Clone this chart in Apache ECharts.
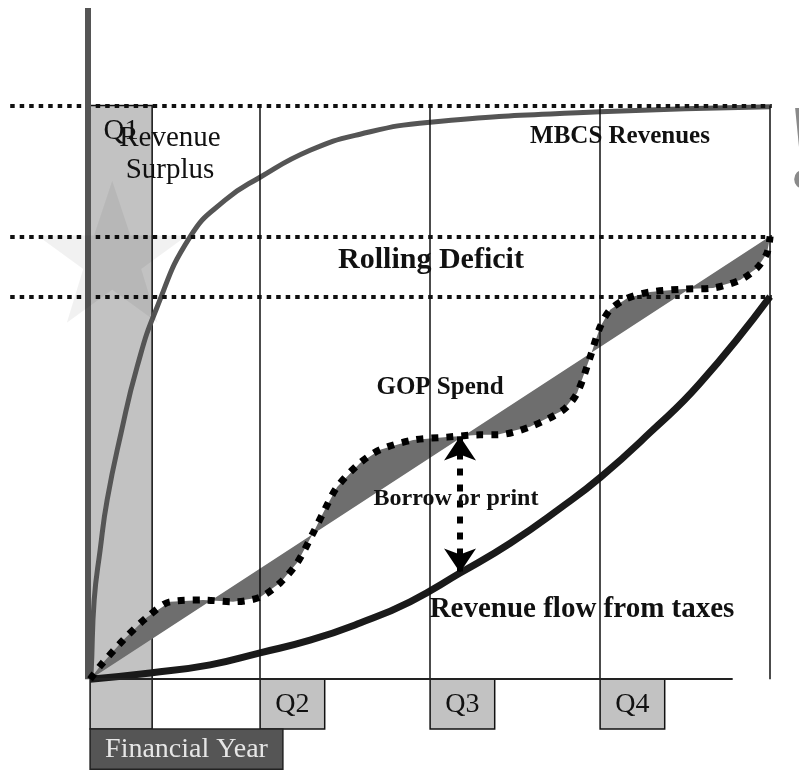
<!DOCTYPE html>
<html>
<head>
<meta charset="utf-8">
<script src="https://cdn.jsdelivr.net/npm/echarts@6/dist/echarts.min.js"></script>
<style>
  html, body { margin: 0; padding: 0; background: #fff; }
  #chart { width: 799px; height: 771px; }
</style>
</head>
<body>
<div id="chart"></div>
<script>
// x = quarters of the financial year (0..4), y = cumulative amount (100 = MBCS plateau)
const quarterNames = ['Q1', 'Q2', 'Q3', 'Q4'];
const quarterStarts = [0, 1, 2, 3];
const yearEnd = 4;
const guideLevels = [100, 77.2, 66.7];

const mbcsRevenue = [[0, 0], [0.006, 1.1], [0.024, 13.8], [0.059, 22.5], [0.1, 31.2], [0.182, 42.9],
  [0.276, 54.4], [0.388, 64.4], [0.588, 77.1], [0.794, 83.5], [1, 87.5], [1.294, 92.2],
  [1.588, 95], [2, 97.1], [3, 98.9], [4, 99.8]];

const gopSpend = [[0, 0], [0.059, 2.3], [0.194, 6.8], [0.335, 10.8], [0.471, 13.5], [0.665, 13.8],
  [0.841, 13.5], [1, 14.3], [1.118, 16.8], [1.218, 20.3], [1.312, 25.5], [1.371, 29],
  [1.453, 33.5], [1.588, 37.7], [1.706, 40], [1.9, 41.7], [2.1, 42.2], [2.294, 42.6],
  [2.394, 42.6], [2.588, 44], [2.782, 46.9], [2.865, 49.9], [2.941, 56.1], [3, 61.4],
  [3.059, 64.4], [3.159, 66.4], [3.294, 67.5], [3.488, 68], [3.665, 68.2], [3.824, 69.6],
  [3.924, 71.7], [3.982, 74.3], [4, 77.2]];

const plannedSpend = [[0, 0], [4, 77.2]];

const taxRevenue = [[0, 0], [0.353, 1.1], [0.706, 2.5], [1, 4.6], [1.294, 6.8], [1.588, 9.8],
  [1.882, 13.5], [2.176, 18.5], [2.471, 23.7], [2.765, 29.8], [3.006, 35.3], [3.294, 43],
  [3.588, 51.6], [4, 66.7]];

const borrowX = 2.176;
const borrowRange = [42.3, 18.6];

const font = '"Liberation Serif", "Times New Roman", serif';
const boxStyle = { color: '#c2c2c2', borderColor: '#111', borderWidth: 1.5 };

var myChart = echarts.init(document.getElementById('chart'));

// quarter boxes under the axis, Q1 as a tall band
var areas = quarterStarts.map(function (q, i) {
  var top = i === 0 ? guideLevels[0] : 0;
  return [
    { name: quarterNames[i], xAxis: q, yAxis: top, itemStyle: boxStyle,
      label: i === 0 ? { position: 'insideTop', distance: 12, fontSize: 29 } : { position: 'inside' } },
    { xAxis: q + (i === 0 ? 0.365 : 0.38), yAxis: -8.7 }
  ];
});
areas.push([
  { name: 'Financial Year', xAxis: 0, yAxis: -8.7,
    itemStyle: { color: '#555', borderColor: '#222', borderWidth: 1.5 },
    label: { position: 'inside', color: '#e6e6e6' } },
  { xAxis: 1.134, yAxis: -15.7 }
]);

var guideLines = guideLevels.map(function (v) {
  return [{ coord: [-0.47, v] }, { coord: [4.01, v] }];
});
var quarterLines = quarterStarts.concat([yearEnd]).slice(1).map(function (q) {
  return [{ coord: [q, 0], lineStyle: { type: 'solid', width: 1.5, color: '#111' } },
          { coord: [q, guideLevels[0]] }];
});

var option = {
  animation: false,
  grid: { left: 0, right: 0, top: 8, bottom: 0 },
  xAxis: { type: 'value', min: -0.53, max: 4.17, show: false },
  yAxis: { type: 'value', min: -16, max: 117, show: false },
  series: [
    {
      name: 'boxes', type: 'line', data: [], z: 1, silent: true,
      markArea: {
        silent: true,
        label: { show: true, fontFamily: font, fontSize: 28, color: '#111' },
        data: areas
      },
      markPoint: {
        silent: true,
        symbol: 'path://M50,0 L61.8,35.1 L98.6,35.1 L68.8,56.7 L79.4,91.3 L50,70 L20.6,91.3 L31.2,56.7 L1.4,35.1 L38.2,35.1 Z',
        symbolSize: [150, 142],
        itemStyle: { color: 'rgba(0,0,0,0.055)' },
        label: { show: false },
        data: [{ coord: [0.13, 74.5] }]
      }
    },
    {
      name: 'guides', type: 'line', data: [], z: 2, silent: true,
      markLine: {
        silent: true, symbol: 'none',
        label: { show: false },
        lineStyle: { color: '#111', width: 4, type: [4.5, 5] },
        data: guideLines.concat(quarterLines).concat([
          [{ coord: [0, 0], lineStyle: { type: 'solid', width: 2, color: '#222' } }, { coord: [3.78, 0] }]
        ])
      }
    },
    {
      name: 'deficit', type: 'custom', z: 3, silent: true,
      data: [[0, 0]],
      renderItem: function (params, api) {
        var pts = gopSpend.map(function (p) { return api.coord(p); });
        var back = plannedSpend.slice().reverse().map(function (p) { return api.coord(p); });
        return { type: 'polygon', shape: { points: pts.concat(back) }, style: { fill: '#6e6e6e' } };
      }
    },
    {
      name: 'MBCS Revenues', type: 'line', z: 4, data: mbcsRevenue, symbol: 'none',
      smooth: 0.5, lineStyle: { color: '#555', width: 5 },
      markLine: {
        silent: true, symbol: 'none', label: { show: false },
        lineStyle: { color: '#555', width: 6, type: 'solid' },
        data: [[{ coord: [-0.015, 0] }, { coord: [-0.015, 117] }]]
      }
    },
    {
      name: 'Revenue flow from taxes', type: 'line', z: 4, data: taxRevenue, symbol: 'none',
      smooth: 0.5, lineStyle: { color: '#1a1a1a', width: 7 }
    },
    {
      name: 'GOP Spend', type: 'line', z: 5, data: gopSpend, symbol: 'none',
      smooth: 0.3, lineStyle: { color: '#000', width: 7, type: [7, 8] }
    },
    {
      name: 'Borrow or print', type: 'line', z: 6, data: [], silent: true,
      markLine: {
        silent: true, symbol: ['arrow', 'arrow'], symbolSize: 24,
        label: { show: false },
        lineStyle: { color: '#000', width: 6, type: [7, 9] },
        itemStyle: { color: '#000' },
        data: [[{ coord: [borrowX, borrowRange[0]] }, { coord: [borrowX, borrowRange[1]] }]]
      }
    }
  ],
  graphic: [
    { type: 'text', x: 170, y: 138, z: 100, style: { text: 'Revenue', font: '29px ' + font, fill: '#111', textAlign: 'center', textVerticalAlign: 'middle' } },
    { type: 'text', x: 170, y: 170, z: 100, style: { text: 'Surplus', font: '29px ' + font, fill: '#111', textAlign: 'center', textVerticalAlign: 'middle' } },
    { type: 'text', x: 620, y: 137, z: 100, style: { text: 'MBCS Revenues', font: 'bold 25px ' + font, fill: '#111', textAlign: 'center', textVerticalAlign: 'middle' } },
    { type: 'text', x: 431, y: 260, z: 100, style: { text: 'Rolling Deficit', font: 'bold 30px ' + font, fill: '#111', textAlign: 'center', textVerticalAlign: 'middle' } },
    { type: 'text', x: 440, y: 388, z: 100, style: { text: 'GOP Spend', font: 'bold 25px ' + font, fill: '#111', textAlign: 'center', textVerticalAlign: 'middle' } },
    { type: 'text', x: 456, y: 499, z: 100, style: { text: 'Borrow or print', font: 'bold 24px ' + font, fill: '#111', textAlign: 'center', textVerticalAlign: 'middle' } },
    { type: 'text', x: 582, y: 610, z: 100, style: { text: 'Revenue flow from taxes', font: 'bold 29px ' + font, fill: '#111', textAlign: 'center', textVerticalAlign: 'middle' } },
    { type: 'text', x: 784, y: 156, z: 100, style: { text: '!', font: 'bold 120px ' + font, fill: '#8a8a8a', textAlign: 'left', textVerticalAlign: 'middle' } }
  ]
};
myChart.setOption(option);
</script>
</body>
</html>
